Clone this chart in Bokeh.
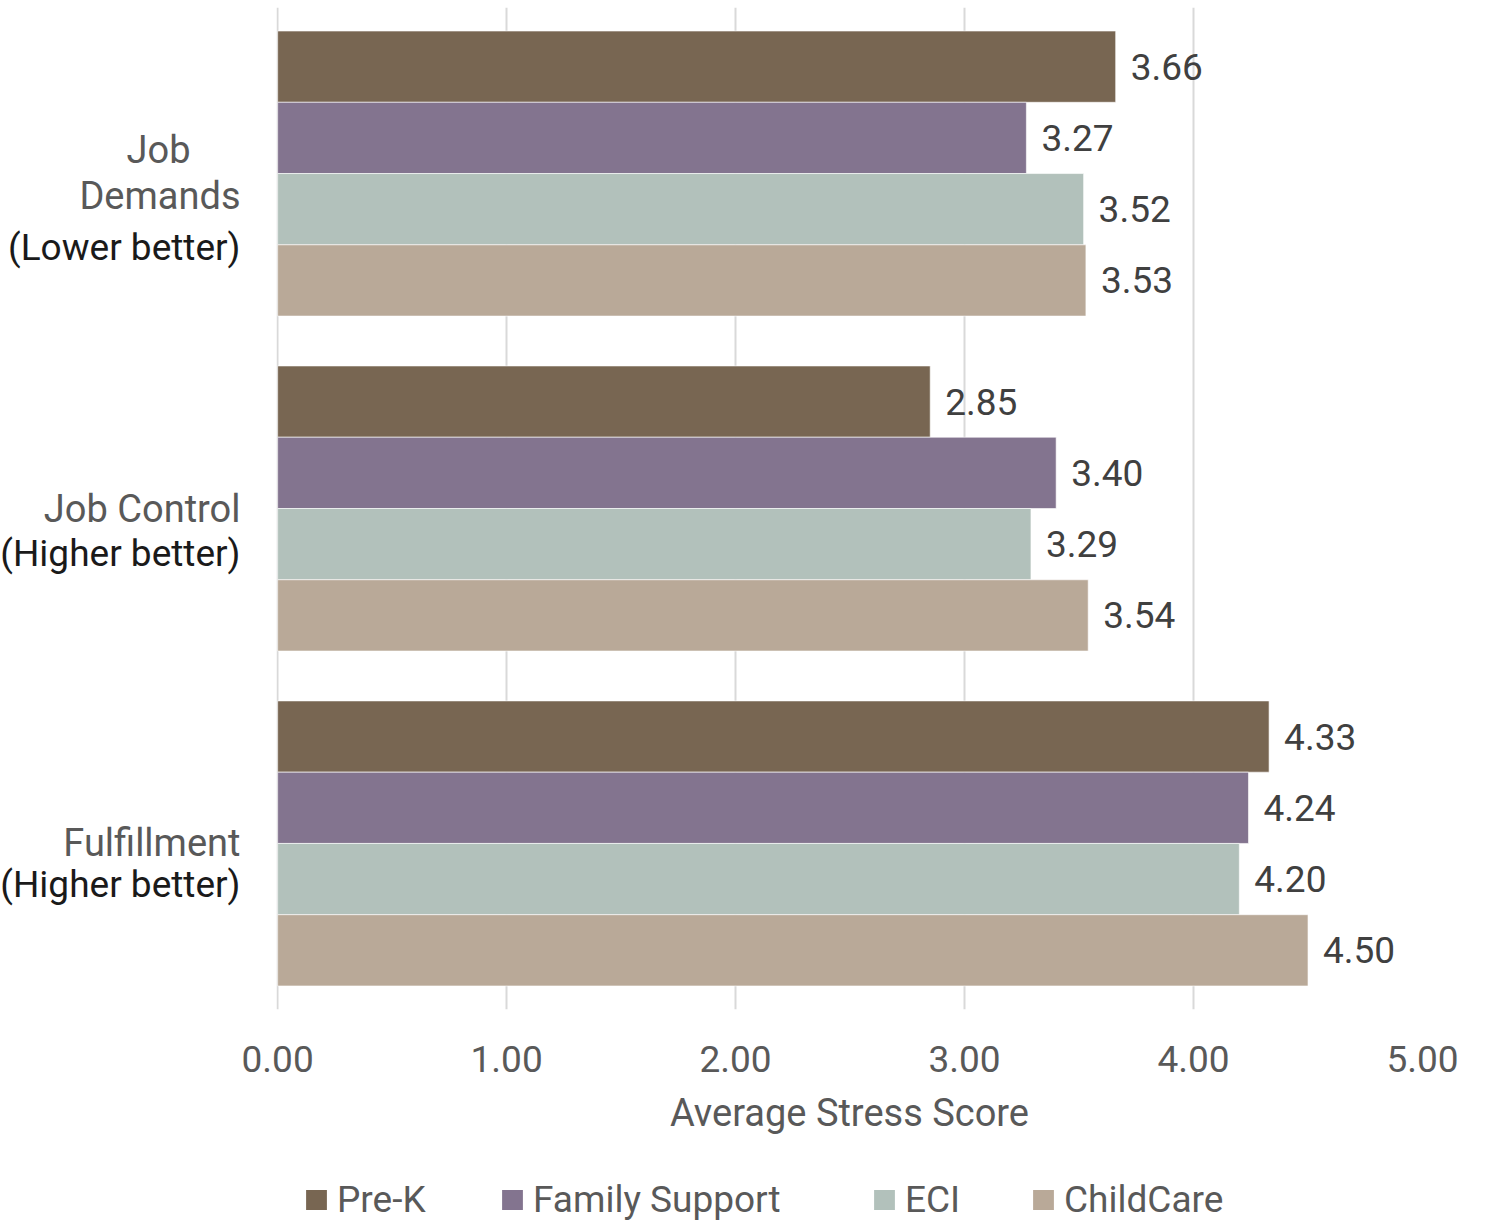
from bokeh.plotting import figure
from bokeh.layouts import row, column
from bokeh.models import Range1d, ColumnDataSource, Legend, LegendItem, FixedTicker
from bokeh.embed import file_html
from bokeh.resources import INLINE
from bokeh.core.properties import value

categories = ["Job Demands", "Job Control", "Fulfillment"]
cat_lines = [["Job", "Demands"], ["Job Control"], ["Fulfillment"]]
cat_notes = ["(Lower better)", "(Higher better)", "(Higher better)"]
series = ["Pre-K", "Family Support", "ECI", "ChildCare"]
prek = [3.66, 2.85, 4.33]
family_support = [3.27, 3.40, 4.24]
eci = [3.52, 3.29, 4.20]
childcare = [3.53, 3.54, 4.50]
x_ticks = [0, 1, 2, 3, 4, 5]

values = [prek, family_support, eci, childcare]
colors = ["#786652", "#83748F", "#B2C1BB", "#B9A998"]
FONT = "Roboto"
GAP = 0.7
STEP = len(series) + GAP
LEFT_W = 241
MAIN_PAD = 35
TOP = 7
PX_PER_UNIT = 229.0
X0 = -0.005
FRAME_W = int(round((5 - X0) * PX_PER_UNIT))
RIGHT_PAD = 45

y_range = Range1d(3 * STEP - GAP + 0.33, -0.33)

# ---- left panel: category labels ----
lp = figure(frame_width=LEFT_W, frame_height=1002, output_backend="svg",
            toolbar_location=None, x_range=Range1d(0, LEFT_W), y_range=y_range,
            min_border_left=0, min_border_right=0, min_border_top=TOP,
            min_border_bottom=0)
lp.axis.visible = False
lp.grid.visible = False
lp.outline_line_color = None

# (x anchor, align, vertical offset) for every title line, offset for notes
title_pos = [[(158, "center", -23.5), (240, "right", 22.5)],
             [(240, "right", 0)],
             [(240, "right", 0)]]
note_offset = [73.5, 44.5, 41.5]
t = dict(x=[], y=[], t=[], o=[], a=[])
n = dict(x=[], y=[], t=[], o=[])
for g in range(len(categories)):
    yc = g * STEP + len(series) / 2
    for line, (xa, al, off) in zip(cat_lines[g], title_pos[g]):
        t["x"].append(xa); t["y"].append(yc); t["t"].append(line)
        t["o"].append(off); t["a"].append(al)
    n["x"].append(240); n["y"].append(yc); n["t"].append(cat_notes[g]); n["o"].append(note_offset[g])
lp.text(x="x", y="y", text="t", y_offset="o", text_align="a",
        source=ColumnDataSource(t), text_baseline="middle",
        text_font=value(FONT), text_font_size="38px", text_color="#595959")
lp.text(x="x", y="y", text="t", y_offset="o", source=ColumnDataSource(n),
        text_align="right", text_baseline="middle", text_font=value(FONT),
        text_font_size="37px", text_color="#1a1a1a")

# ---- main chart ----
p = figure(frame_width=FRAME_W, frame_height=1002,
           output_backend="svg", toolbar_location=None,
           x_range=Range1d(X0, 5), y_range=y_range,
           min_border_left=MAIN_PAD, min_border_right=RIGHT_PAD, min_border_top=TOP,
           min_border_bottom=0)
p.outline_line_color = None

for s, (name, vals, col) in enumerate(zip(series, values, colors)):
    ys = [g * STEP + s + 0.5 for g in range(len(categories))]
    src = ColumnDataSource(dict(y=ys, v=vals, lab=[f"{v:.2f}" for v in vals]))
    p.hbar(y="y", left=0, right="v", height=1, source=src, fill_color=col,
           line_color="white", line_width=0.6)
    p.text(x="v", y="y", text="lab", source=src, x_offset=15,
           text_baseline="middle", text_align="left",
           text_font=value(FONT), text_font_size="37px", text_color="#404040")

p.yaxis.visible = False
p.ygrid.visible = False
p.xgrid.grid_line_color = "#d9d9d9"
p.xgrid.grid_line_width = 2
p.xaxis.ticker = FixedTicker(ticks=x_ticks)
p.xaxis.major_label_overrides = {t_: f"{t_:.2f}" for t_ in x_ticks}
p.xaxis.axis_line_color = None
p.xaxis.major_tick_line_color = None
p.xaxis.minor_tick_line_color = None
p.xaxis.major_label_text_font = FONT
p.xaxis.major_label_text_font_size = "37px"
p.xaxis.major_label_text_color = "#595959"
p.xaxis.major_label_standoff = 30
p.xaxis.axis_label = "Average Stress Score"
p.xaxis.axis_label_text_font = FONT
p.xaxis.axis_label_text_font_size = "38px"
p.xaxis.axis_label_text_font_style = "normal"
p.xaxis.axis_label_text_color = "#595959"
p.xaxis.axis_label_standoff = 16

# ---- legend strip ----
TOTAL_W = LEFT_W + MAIN_PAD + FRAME_W + RIGHT_PAD
lf = figure(frame_width=TOTAL_W, frame_height=84, output_backend="svg",
            toolbar_location=None, x_range=Range1d(0, 1), y_range=Range1d(0, 1),
            min_border_left=0, min_border_right=0, min_border_top=0,
            min_border_bottom=0)
lf.axis.visible = False
lf.grid.visible = False
lf.outline_line_color = None
legend_x = [303, 499, 871, 1030]
for name, col, lx in zip(series, colors, legend_x):
    # swatch-only renderer, kept outside the visible range of this strip
    r = lf.hbar(y=[-10], left=[0], right=[1], height=1, fill_color=col, line_color=None)
    lf.add_layout(Legend(items=[LegendItem(label=name, renderers=[r])],
                         location=(lx, 0), orientation="horizontal",
                         glyph_width=26, glyph_height=25, label_standoff=8,
                         label_text_font=FONT, label_text_font_size="37px",
                         label_text_color="#595959", border_line_color=None,
                         background_fill_alpha=0, padding=0, margin=0))

layout = column(row(lp, p, spacing=0), lf, spacing=0)
open("out.html", "w").write(file_html(layout, INLINE))
